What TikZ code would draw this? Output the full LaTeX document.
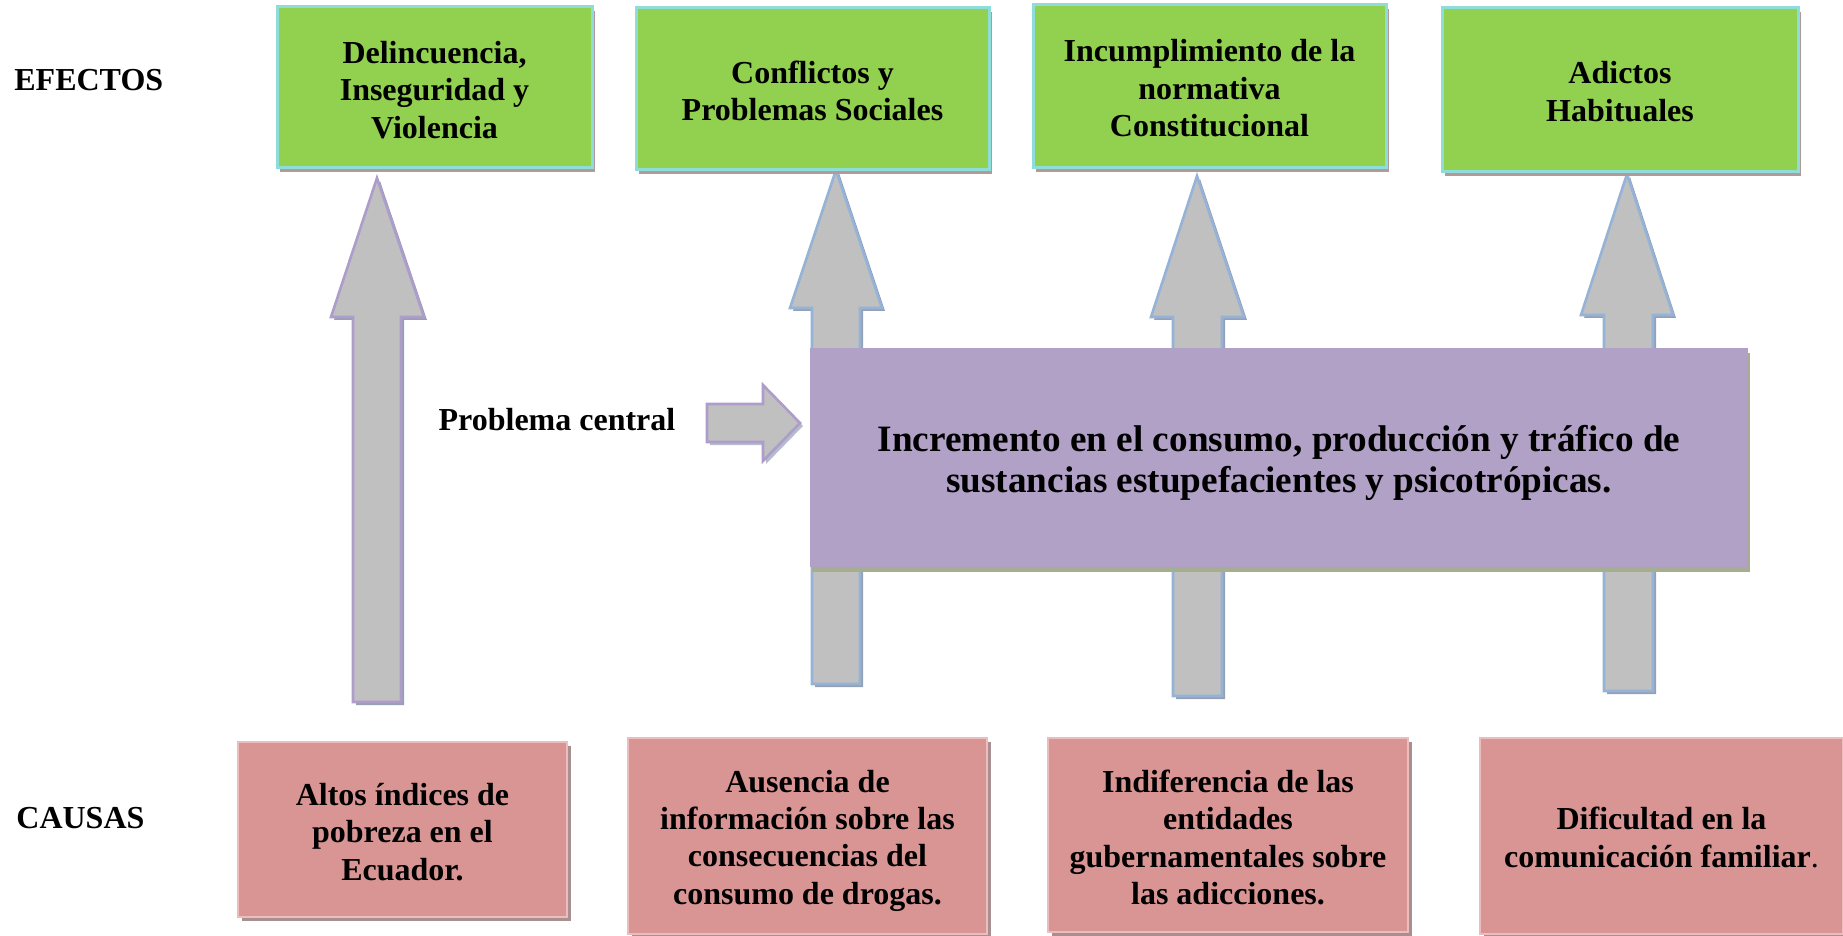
\documentclass[tikz,border=0pt]{standalone}
\usepackage{fontspec}
\setmainfont{Liberation Serif}
\usetikzlibrary{shadows}
\definecolor{effgreen}{HTML}{92D050}
\definecolor{effcyan}{HTML}{8EDDD8}
\definecolor{greenshadow}{HTML}{B39A9A}
\definecolor{causered}{HTML}{D99594}
\definecolor{causeborder}{HTML}{EDBCBC}
\definecolor{redshadow}{HTML}{A89090}
\definecolor{mainpurple}{HTML}{B2A1C7}
\definecolor{purpleshadow}{HTML}{A5AE8E}
\definecolor{arrgray}{HTML}{C0C0C0}
\definecolor{arrblue}{HTML}{95B3D7}
\definecolor{arrpurple}{HTML}{AE9CCB}
\definecolor{arrshadow}{HTML}{95A0B4}
\newcommand\boxfont{\fontsize{16}{18.7}\selectfont\bfseries}
\newcommand\mainfont{\fontsize{18.6}{20.5}\selectfont\bfseries}
\newcommand\blockup[9]{%
  \begin{scope}[shift={(3,3)}]
    \fill[arrshadow] (#1,#2) -- (#4,#5) -- (#7,#5) -- (#7,#8) -- (#6,#8) -- (#6,#5) -- (#3,#5) -- cycle;
  \end{scope}
  \draw[fill=arrgray, draw=#9, line width=1.3pt, line join=miter]
    (#1,#2) -- (#4,#5) -- (#7,#5) -- (#7,#8) -- (#6,#8) -- (#6,#5) -- (#3,#5) -- cycle;
}
\begin{document}
\begin{tikzpicture}[x=0.5pt,y=-0.5pt,
  gbox/.style={fill=effgreen, draw=effcyan, line width=1.5pt, inner sep=0pt,
    drop shadow={shadow xshift=1.5pt, shadow yshift=-2pt, fill=greenshadow, opacity=1}},
  rbox/.style={fill=causered, draw=causeborder, line width=1.2pt, inner sep=0pt,
    drop shadow={shadow xshift=2pt, shadow yshift=-2pt, fill=redshadow, opacity=1}},
  pbox/.style={fill=mainpurple, draw=none, inner sep=0pt,
    drop shadow={shadow xshift=1pt, shadow yshift=-2.5pt, fill=purpleshadow, opacity=1}},
  btext/.style={align=center, font=\boxfont, inner sep=0pt},
  mtext/.style={align=center, font=\mainfont, inner sep=0pt},
  lbl/.style={font=\boxfont, inner sep=0pt}
]
\useasboundingbox (0,0) rectangle (1843,936);

% block arrows (upward)
\blockup{377}{178}{331}{424}{317}{353}{401}{702}{arrpurple}
\blockup{836}{170}{790}{882}{308}{812}{860}{684}{arrblue}
\blockup{1197}{176}{1151}{1244}{317}{1173}{1222}{696}{arrblue}
\blockup{1627}{174}{1581}{1673}{315}{1604}{1653}{691}{arrblue}

% right arrow (Problema central)
\begin{scope}[shift={(3,3)}]
  \fill[arrshadow!70] (707,404) -- (763,404) -- (763,385) -- (800,423) -- (763,461) -- (763,442) -- (707,442) -- cycle;
\end{scope}
\draw[fill=arrgray, draw=arrpurple, line width=1.3pt]
  (707,404) -- (763,404) -- (763,385) -- (800,423) -- (763,461) -- (763,442) -- (707,442) -- cycle;

% central problem
\node[pbox, minimum width=469pt, minimum height=109.5pt] (main) at (1279,457.5) {};
\node[mtext] (maintext) at ([yshift=-2.5pt]main.center)
  {Incremento en el consumo, producción y tráfico de\\sustancias estupefacientes y psicotrópicas.};

% effects
\node[gbox, minimum width=157.5pt, minimum height=80.5pt] (e1) at (434.5,87.5) {};
\node[gbox, minimum width=176.5pt, minimum height=81pt] (e2) at (812.5,89) {};
\node[gbox, minimum width=176.5pt, minimum height=81.5pt] (e3) at (1209.5,86.5) {};
\node[gbox, minimum width=178pt, minimum height=82pt] (e4) at (1620,90) {};
\node[btext] (e1t) at ([yshift=-1.2pt]e1.center) {Delincuencia,\\Inseguridad y\\Violencia};
\node[btext] (e2t) at ([yshift=-0.8pt]e2.center) {Conflictos y\\Problemas Sociales};
\node[btext] (e3t) at ([yshift=-0.8pt]e3.center) {Incumplimiento de la\\normativa\\Constitucional};
\node[btext] (e4t) at ([yshift=-0.8pt]e4.center) {Adictos\\Habituales};

% causes
\node[rbox, minimum width=164.5pt, minimum height=87.5pt] (c1) at (402.5,829.5) {};
\node[rbox, minimum width=179.5pt, minimum height=98pt] (c2) at (807.5,836) {};
\node[rbox, minimum width=180pt, minimum height=97pt] (c3) at (1228,835) {};
\node[rbox, minimum width=181.5pt, minimum height=98pt] (c4) at (1661.5,836) {};
\node[btext] (c1t) at ([yshift=-1.2pt]c1.center) {Altos índices de\\pobreza en el\\Ecuador.};
\node[btext] (c2t) at ([yshift=-2.3pt]c2.center) {Ausencia de\\información sobre las\\consecuencias del\\consumo de drogas.};
\node[btext] (c3t) at ([yshift=-1.2pt]c3.center) {Indiferencia de las\\entidades\\gubernamentales sobre\\las adicciones.};
\node[btext] (c4t) at ([yshift=-0.8pt]c4.center) {Dificultad en la\\comunicación familiar\textnormal{.}};

% labels
\node[lbl, anchor=west] (efectos) at (14,80) {EFECTOS};
\node[lbl, anchor=west] (causas) at (16,818) {CAUSAS};
\node[lbl] (problema) at (557,420) {Problema central};
\end{tikzpicture}
\end{document}
